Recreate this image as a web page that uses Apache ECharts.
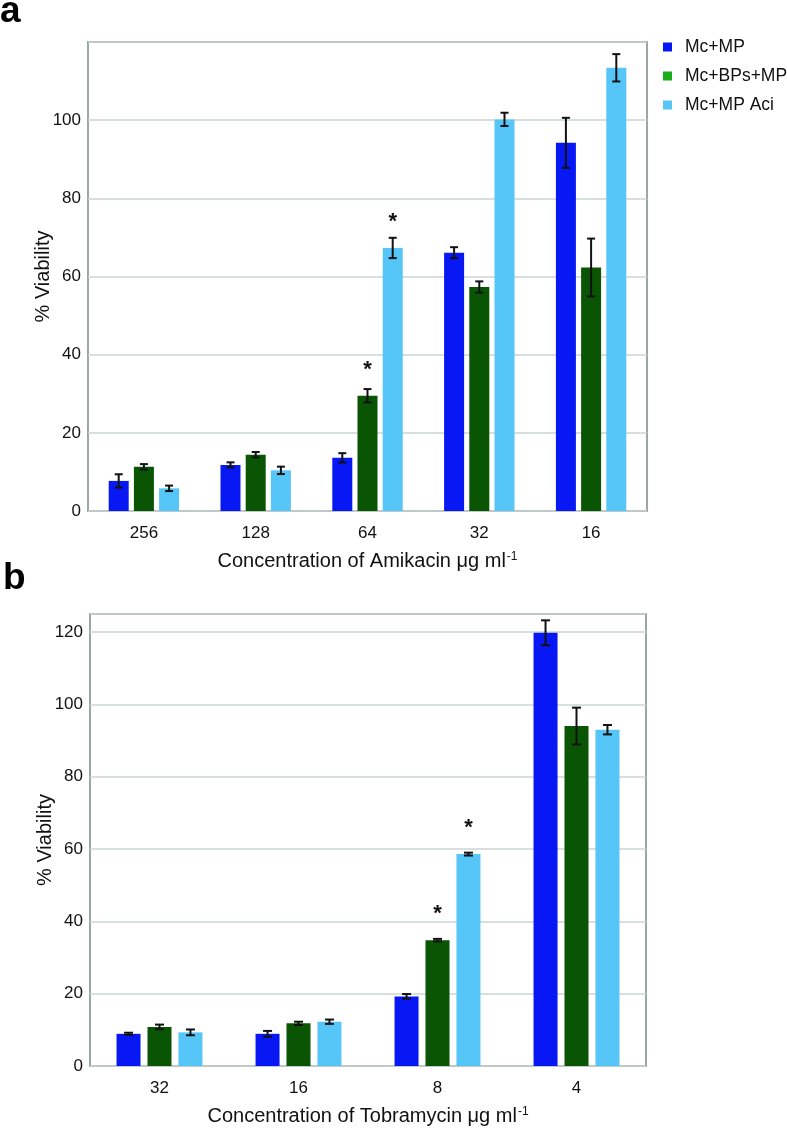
<!DOCTYPE html>
<html>
<head>
<meta charset="utf-8">
<script src="https://cdn.jsdelivr.net/npm/echarts@6/dist/echarts.min.js"></script>
<style>
html,body{margin:0;padding:0;background:#fff;}
#chart{width:787px;height:1129px;}
</style>
</head>
<body>
<div id="chart"></div>
<script>
// ---------- data ----------
const seriesNames = ['Mc+MP', 'Mc+BPs+MP', 'Mc+MP Aci'];

// Panel a : Amikacin
const categoriesA = ['256', '128', '64', '32', '16'];
const mcMP_A      = [7.7, 11.8, 13.6, 66.1, 94.2];
const mcBPsMP_A   = [11.3, 14.4, 29.5, 57.3, 62.3];
const mcMPAci_A   = [5.8, 10.4, 67.3, 100.2, 113.4];
const errMcMP_A    = [1.7, 0.65, 1.2, 1.4, 6.4];
const errMcBPsMP_A = [0.7, 0.7, 1.7, 1.45, 7.4];
const errMcMPAci_A = [0.7, 0.95, 2.6, 1.7, 3.5];
const starMcMP_A    = [0, 0, 0, 0, 0];
const starMcBPsMP_A = [0, 0, 1, 0, 0];
const starMcMPAci_A = [0, 0, 1, 0, 0];
const yMaxA = 120;

// Panel b : Tobramycin
const categoriesB = ['32', '16', '8', '4'];
const mcMP_B      = [8.9, 8.9, 19.25, 119.8];
const mcBPsMP_B   = [10.8, 11.8, 34.8, 94.0];
const mcMPAci_B   = [9.3, 12.25, 58.6, 93.0];
const errMcMP_B    = [0.3, 0.8, 0.65, 3.45];
const errMcBPsMP_B = [0.65, 0.45, 0.35, 5.1];
const errMcMPAci_B = [0.8, 0.6, 0.4, 1.3];
const starMcMP_B    = [0, 0, 0, 0];
const starMcBPsMP_B = [0, 0, 1, 0];
const starMcMPAci_B = [0, 0, 1, 0];
const yMaxB = 125;

const xTitleA = 'Concentration of Amikacin \u03bcg ml{sup|-1}';
const xTitleB = 'Concentration of Tobramycin \u03bcg ml{sup|-1}';
const yTitle = '% Viability';

// ---------- styles ----------
const colors = ['#0718f5', '#0a5503', '#56c5f7'];
const legendColors = ['#0718f5', '#18ac18', '#56c5f7'];
const FONT = '"Liberation Sans", Arial, Helvetica, sans-serif';
const frameColor = '#9aa8a5';
const gridColor = '#cbd6d4';

const panels = [
  {cats: categoriesA, vals: [mcMP_A, mcBPsMP_A, mcMPAci_A], errs: [errMcMP_A, errMcBPsMP_A, errMcMPAci_A],
   stars: [starMcMP_A, starMcBPsMP_A, starMcMPAci_A], max: yMaxA, xTitle: xTitleA,
   barWidth: 20, barGap: 0.26, cap: 8,
   grid: {left: 88, top: 42, width: 559, height: 469}},
  {cats: categoriesB, vals: [mcMP_B, mcBPsMP_B, mcMPAci_B], errs: [errMcMP_B, errMcBPsMP_B, errMcMPAci_B],
   stars: [starMcMP_B, starMcBPsMP_B, starMcMPAci_B], max: yMaxB, xTitle: xTitleB,
   barWidth: 24, barGap: 0.29, cap: 9,
   grid: {left: 90, top: 614, width: 556, height: 452}}
];

const grids = [], xAxes = [], yAxes = [], series = [];

panels.forEach((p, pi) => {
  grids.push(Object.assign({show: true, borderColor: frameColor, borderWidth: 2, backgroundColor: '#fff'}, p.grid));
  xAxes.push({
    type: 'category', gridIndex: pi, data: p.cats,
    axisLine: {show: false}, axisTick: {show: false},
    axisLabel: {color: '#111', fontFamily: FONT, fontSize: 17, margin: 14},
    name: p.xTitle, nameLocation: 'middle', nameGap: 40, nameMoveOverlap: false,
    nameTextStyle: {color: '#111', fontFamily: FONT, fontSize: 20,
      rich: {sup: {fontSize: 12, fontFamily: FONT, color: '#111', verticalAlign: 'top', padding: [0, 0, 9, 1]}}}
  });
  yAxes.push({
    type: 'value', gridIndex: pi, min: 0, max: p.max, interval: 20,
    axisLine: {show: false}, axisTick: {show: false},
    axisLabel: {color: '#111', fontFamily: FONT, fontSize: 17, margin: 7, showMaxLabel: false},
    splitLine: {lineStyle: {color: gridColor, width: 1.5}},
    name: yTitle, nameLocation: 'middle', nameGap: 35, nameRotate: 90, nameMoveOverlap: false,
    nameTextStyle: {color: '#111', fontFamily: FONT, fontSize: 20}
  });
  const step = p.barWidth * (1 + p.barGap);
  p.vals.forEach((vals, si) => {
    series.push({
      type: 'bar', name: seriesNames[si], xAxisIndex: pi, yAxisIndex: pi,
      barWidth: p.barWidth, barGap: (p.barGap * 100) + '%',
      itemStyle: {color: colors[si]},
      data: vals.map((v, i) => p.stars[si][i] ? {
        value: v,
        label: {show: true, position: 'top', distance: 15, formatter: '*',
                fontSize: 22, fontWeight: 'bold', color: '#111', fontFamily: FONT}
      } : v),
      z: 2
    });
  });
  p.vals.forEach((vals, si) => {
    const offset = (si - 1) * step;
    const errs = p.errs[si];
    series.push({
      type: 'custom', name: seriesNames[si] + ' err', xAxisIndex: pi, yAxisIndex: pi,
      data: vals.map((v, i) => [i, v - errs[i], v + errs[i]]),
      encode: {x: 0, y: [1, 2]},
      z: 5, silent: true,
      renderItem: function (params, api) {
        const lo = api.coord([api.value(0), api.value(1)]);
        const hi = api.coord([api.value(0), api.value(2)]);
        const x = lo[0] + offset;
        const h = p.cap / 2;
        const st = {stroke: '#111', lineWidth: 2};
        return {type: 'group', children: [
          {type: 'line', shape: {x1: x, y1: lo[1], x2: x, y2: hi[1]}, style: st},
          {type: 'line', shape: {x1: x - h, y1: lo[1], x2: x + h, y2: lo[1]}, style: st},
          {type: 'line', shape: {x1: x - h, y1: hi[1], x2: x + h, y2: hi[1]}, style: st}
        ]};
      }
    });
  });
});

const chart = echarts.init(document.getElementById('chart'), null, {renderer: 'canvas'});
chart.setOption({
  animation: false,
  backgroundColor: '#fff',
  textStyle: {fontFamily: FONT},
  grid: grids,
  xAxis: xAxes,
  yAxis: yAxes,
  legend: {
    orient: 'vertical', left: 658, top: 33,
    itemWidth: 9, itemHeight: 9, itemGap: 11, icon: 'rect',
    textStyle: {color: '#111', fontFamily: FONT, fontSize: 17.5, padding: [0, 0, 0, 8]},
    data: seriesNames.map((n, i) => ({name: n, itemStyle: {color: legendColors[i]}}))
  },
  graphic: [
    {type: 'text', left: 0, top: -7, style: {text: 'a', fontSize: 37, fontWeight: 'bold', fill: '#000', fontFamily: FONT}},
    {type: 'text', left: 3, top: 560, style: {text: 'b', fontSize: 37, fontWeight: 'bold', fill: '#000', fontFamily: FONT}}
  ],
  series: series
});
</script>
</body>
</html>
